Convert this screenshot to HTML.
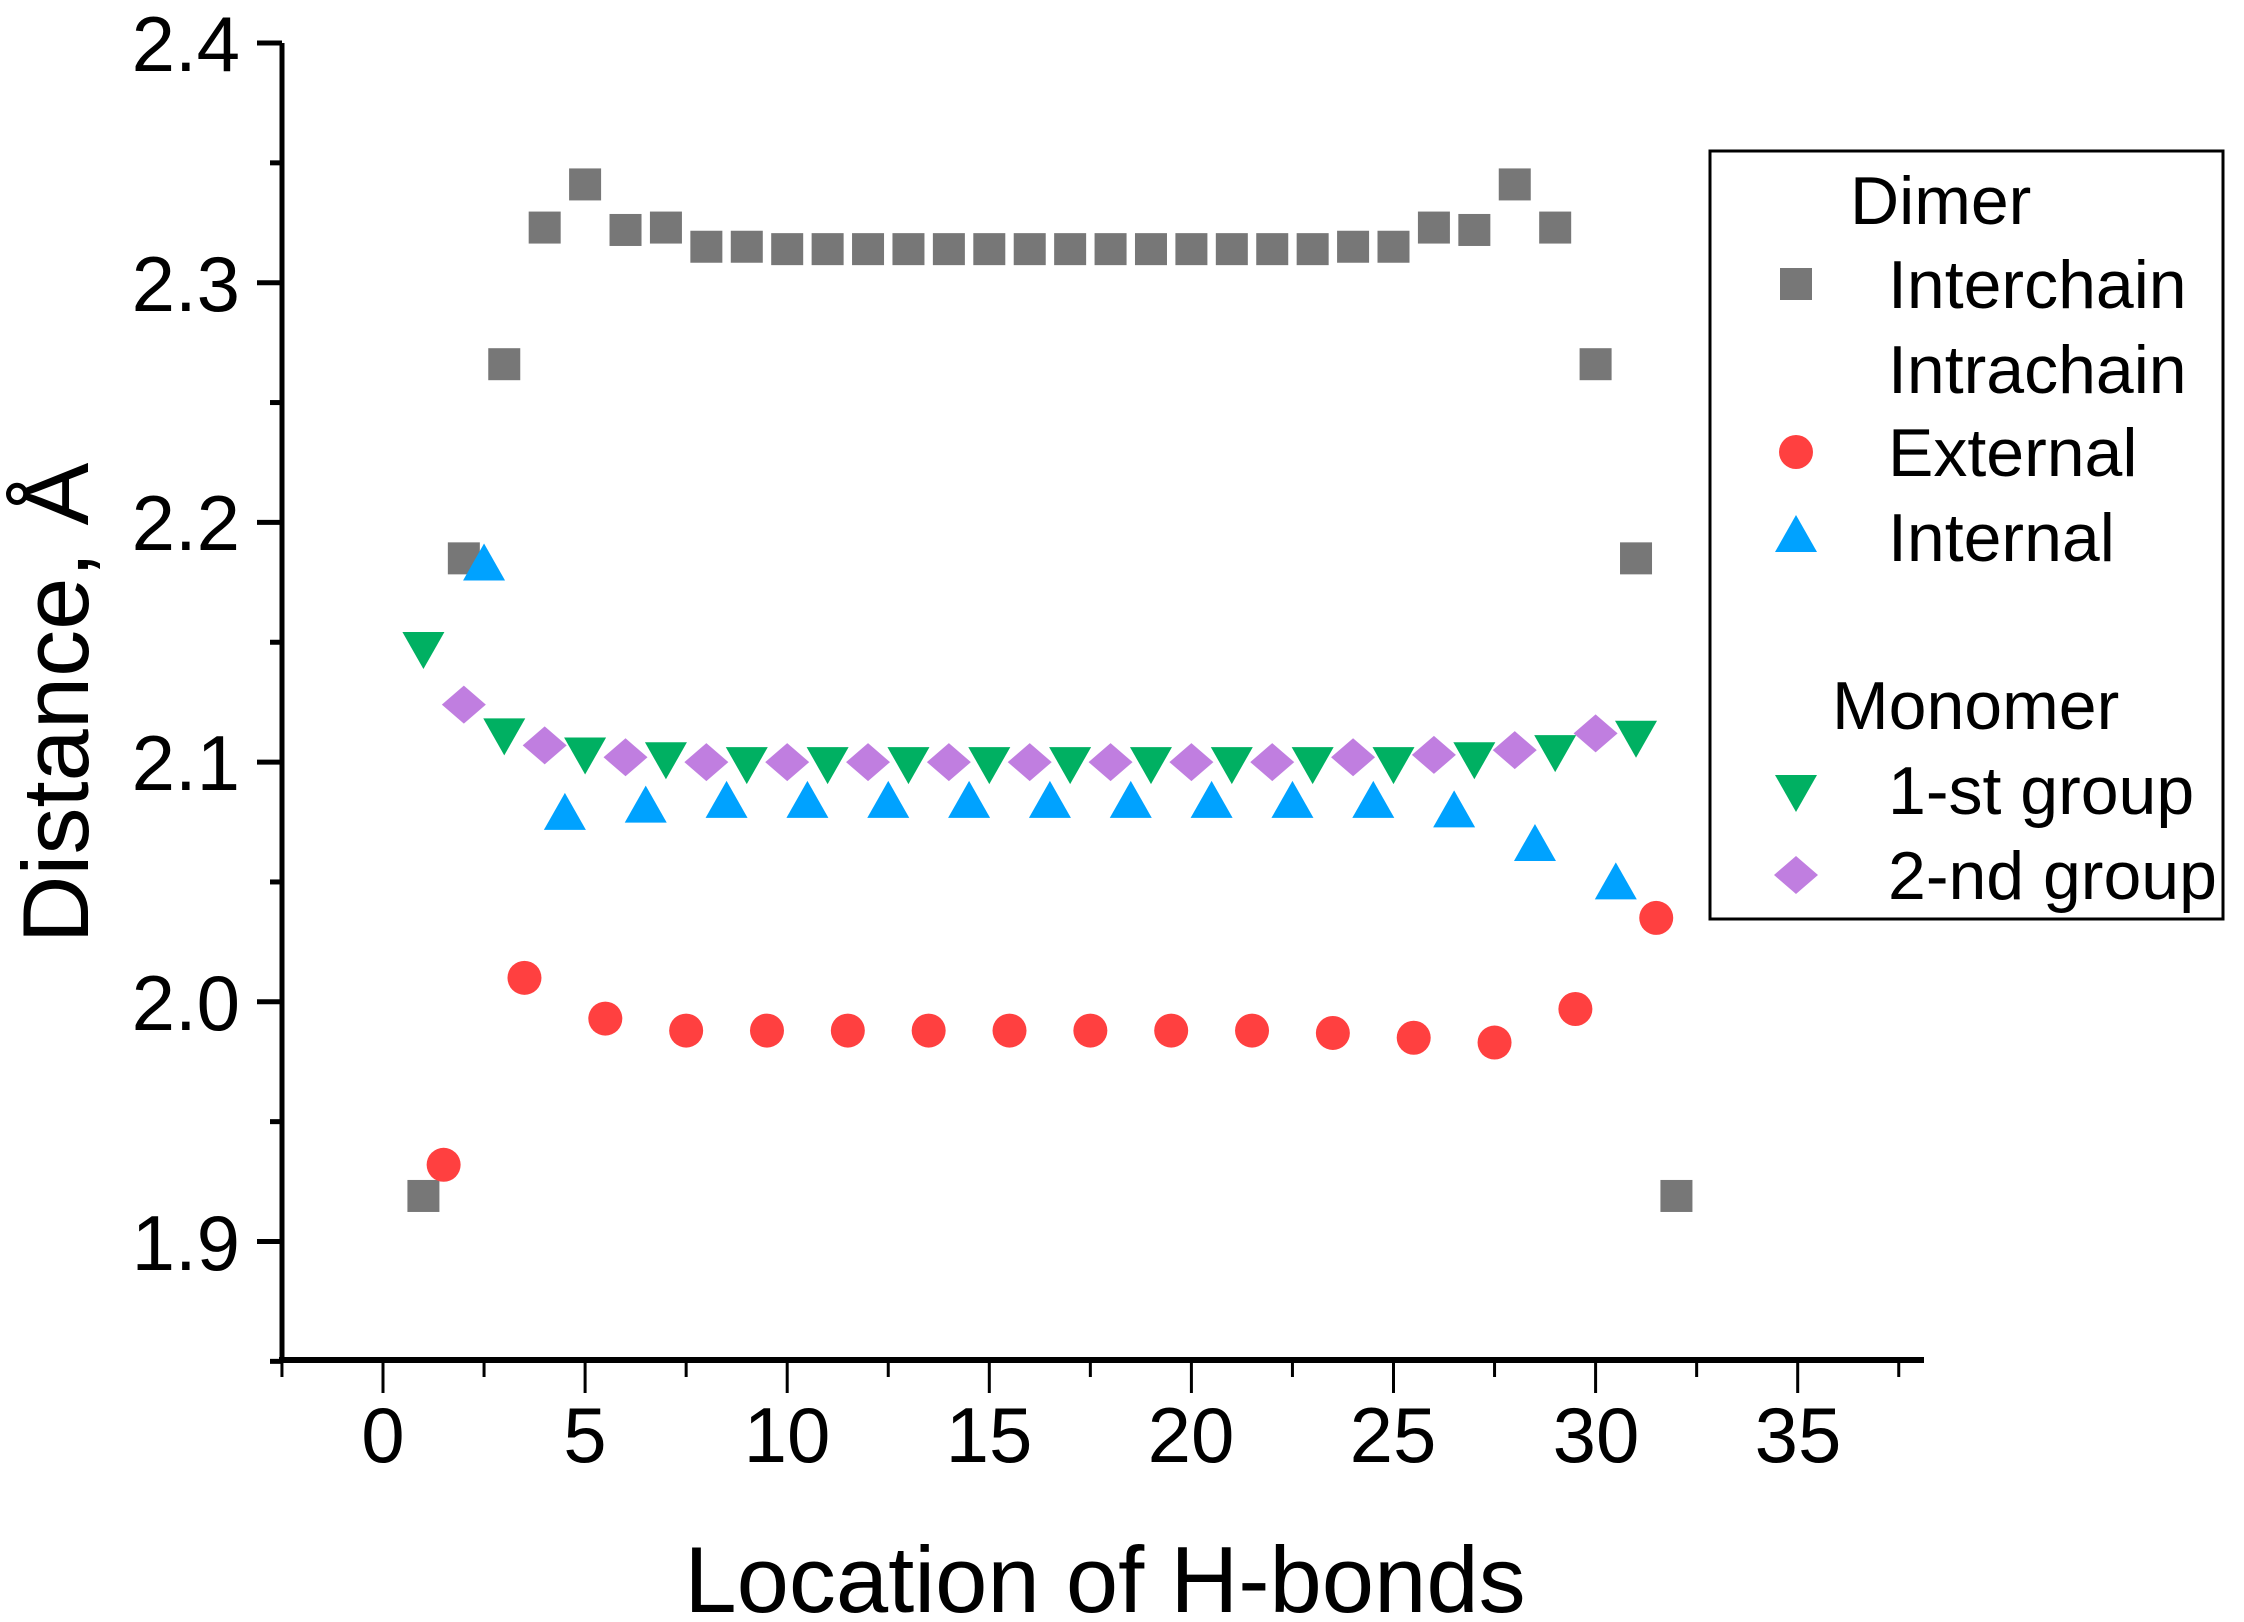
<!DOCTYPE html>
<html><head><meta charset="utf-8"><style>
html,body{margin:0;padding:0;background:#fff;}
svg{display:block;font-family:"Liberation Sans",Arial,sans-serif;}
</style></head><body>
<svg id="s" width="2244" height="1622" viewBox="0 0 2244 1622" xmlns="http://www.w3.org/2000/svg">
<rect width="2244" height="1622" fill="#fff"/>
<g id="ax" stroke="#000" fill="none"></g>
<g font-size="78" text-anchor="end" fill="#000">
<text x="240" y="71">2.4</text>
<text x="240" y="311">2.3</text>
<text x="240" y="550">2.2</text>
<text x="240" y="790">2.1</text>
<text x="240" y="1030">2.0</text>
<text x="240" y="1270">1.9</text>
</g>
<g font-size="78" text-anchor="middle" fill="#000">
<text x="383" y="1462">0</text>
<text x="585" y="1462">5</text>
<text x="787" y="1462">10</text>
<text x="989" y="1462">15</text>
<text x="1191" y="1462">20</text>
<text x="1393" y="1462">25</text>
<text x="1596" y="1462">30</text>
<text x="1798" y="1462">35</text>
</g>
<text x="1105" y="1612" font-size="94" text-anchor="middle">Location of H-bonds</text>
<text transform="translate(88,703) rotate(-90)" font-size="94" text-anchor="middle">Distance, Å</text>
<g id="pts"></g>
<rect x="1710" y="151" width="513" height="768" fill="none" stroke="#000" stroke-width="3"/>
<g font-size="68" fill="#000">
<text x="1850" y="224">Dimer</text>
<text x="1888" y="308">Interchain</text>
<text x="1888" y="393">Intrachain</text>
<text x="1888" y="476">External</text>
<text x="1888" y="561">Internal</text>
<text x="1832" y="729">Monomer</text>
<text x="1888" y="814">1-st group</text>
<text x="1888" y="899">2-nd group</text>
</g>
<g id="leg"></g>
</svg>
<script>
var NS="http://www.w3.org/2000/svg";
function X(v){return 383+v*40.42;}
function Y(v){return 43+(2.4-v)*2397;}
function el(p,t,a){var e=document.createElementNS(NS,t);for(var k in a)e.setAttribute(k,a[k]);p.appendChild(e);return e;}
var ax=document.getElementById('ax');
el(ax,'line',{x1:282,y1:43,x2:282,y2:1362,'stroke-width':5});
el(ax,'line',{x1:279,y1:1360,x2:1924,y2:1360,'stroke-width':6});
for(var i=0;i<=11;i++){var v=2.4-i*0.05;var y=Y(v);var maj=i%2==0;el(ax,'line',{x1:maj?257:270,y1:y,x2:282,y2:y,'stroke-width':5});}
for(var v=-2.5;v<=38.2;v+=2.5){var x=X(v);var maj=Math.abs(v/5-Math.round(v/5))<1e-6;el(ax,'line',{x1:x,y1:1360,x2:x,y2:maj?1393:1377,'stroke-width':3});}
var pts=document.getElementById('pts');
function sq(x,y){el(pts,'rect',{x:x-16,y:y-16,width:32,height:32,fill:'#777777'});}
function ci(x,y){el(pts,'circle',{cx:x,cy:y,r:17,fill:'#ff4040'});}
function tu(x,y){el(pts,'polygon',{points:(x-21)+','+(y+15)+' '+(x+21)+','+(y+15)+' '+x+','+(y-22),fill:'#00a2ff'});}
function td(x,y){el(pts,'polygon',{points:(x-21)+','+(y-15)+' '+(x+21)+','+(y-15)+' '+x+','+(y+22),fill:'#00b062'});}
function di(x,y){el(pts,'polygon',{points:(x-22)+','+y+' '+x+','+(y-19)+' '+(x+22)+','+y+' '+x+','+(y+19),fill:'#c07ee0'});}
var s1=[1.919,2.185,2.266,2.323,2.341,2.322,2.323,2.315,2.315];
for(var i=10;i<=23;i++)s1.push(2.314);
s1=s1.concat([2.315,2.315,2.323,2.322,2.341,2.323,2.266,2.185,1.919]);
var ext=[1.932,2.010,1.993,1.988,1.988,1.988,1.988,1.988,1.988,1.988,1.988,1.987,1.985,1.983,1.997,2.035];
var inn=[2.182,2.078,2.081,2.083,2.083,2.083,2.083,2.083,2.083,2.083,2.083,2.083,2.079,2.065,2.049];
var g1=[2.148,2.112,2.104,2.102,2.100,2.100,2.100,2.100,2.100,2.100,2.100,2.100,2.100,2.102,2.105,2.111];
var g2=[2.124,2.107,2.102,2.100,2.100,2.100,2.100,2.100,2.100,2.100,2.100,2.102,2.103,2.105,2.112];
s1.forEach(function(v,i){sq(X(i+1),Y(v));});
g1.forEach(function(v,i){td(X(1+2*i),Y(v));});
g2.forEach(function(v,i){di(X(2+2*i),Y(v));});
inn.forEach(function(v,i){tu(X(2.5+2*i),Y(v));});
ext.forEach(function(v,i){ci(X(1.5+2*i),Y(v));});
pts=document.getElementById('leg');
sq(1796,284);ci(1796,452);tu(1796,537);td(1796,790);di(1796,875);
</script>
</body></html>
